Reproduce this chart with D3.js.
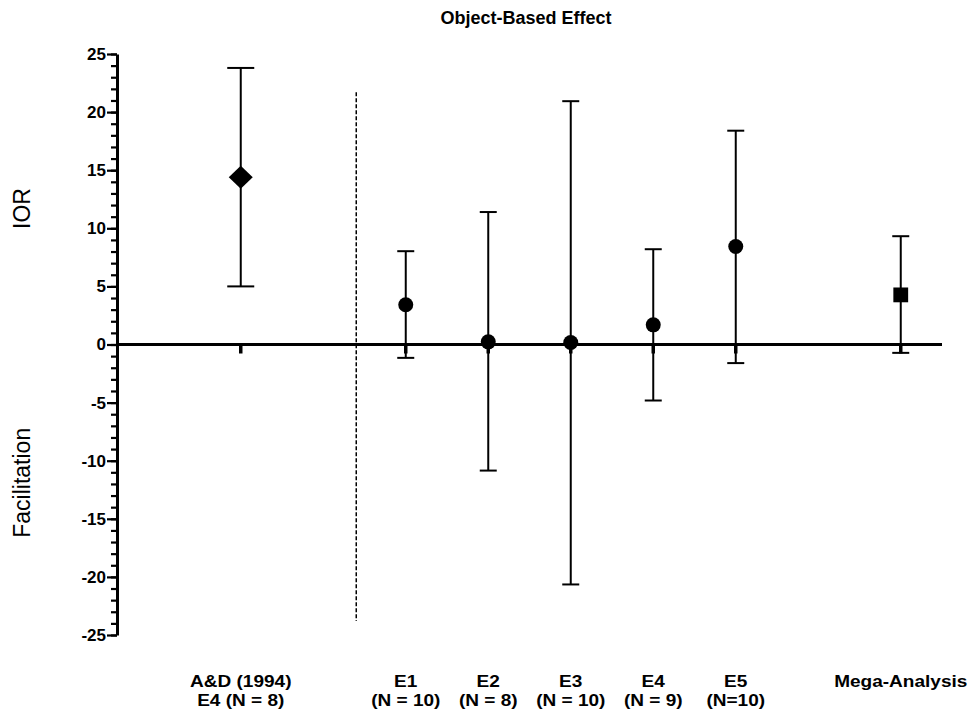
<!DOCTYPE html>
<html>
<head>
<meta charset="utf-8">
<script src="https://cdn.jsdelivr.net/npm/d3@7/dist/d3.min.js"></script>
<style>
  html, body { margin: 0; padding: 0; background: #fff; }
  svg { display: block; font-family: "Liberation Sans", Arial, sans-serif; }
</style>
</head>
<body>
<svg id="chart" width="970" height="715"></svg>
<script>
// ---- data ----
const labelLine1 = ["A&D (1994)", "E1", "E2", "E3", "E4", "E5", "Mega-Analysis"];
const labelLine2 = ["E4 (N = 8)", "(N = 10)", "(N = 8)", "(N = 10)", "(N = 9)", "(N=10)", ""];
const positions  = [0, 2, 3, 4, 5, 6, 8];
const means      = [14.4, 3.42, 0.23, 0.17, 1.69, 8.43, 4.27];
const upper      = [23.8, 8.03, 11.4, 20.94, 8.2, 18.4, 9.32];
const lower      = [5.0, -1.15, -10.85, -20.65, -4.82, -1.6, -0.72];
const markers    = ["diamond", "circle", "circle", "circle", "circle", "circle", "square"];
const majorTicks = [-25, -20, -15, -10, -5, 0, 5, 10, 15, 20, 25];
const separatorX = 1.4;
const separatorY = [21.7, -23.8];
const title = "Object-Based Effect";
const yTitleTop = "IOR";
const yTitleBottom = "Facilitation";

// ---- chart ----
const svg = d3.select("#chart");
const x = d3.scaleLinear().domain([-1.5, 8.5]).range([117, 942]);
const y = d3.scaleLinear().domain([-25, 25]).range([635, 54]);

// title
svg.append("text").attr("x", 526).attr("y", 24)
  .attr("text-anchor", "middle").attr("font-weight", "bold").attr("font-size", 18)
  .text(title);

// y axis minor ticks
const minorAxis = d3.axisLeft(y).tickValues(d3.range(-25, 26, 1)).tickSize(6).tickFormat("");
const gMinor = svg.append("g").attr("transform", `translate(${x(-1.5)},0)`).call(minorAxis);
gMinor.select(".domain").remove();
gMinor.selectAll(".tick line").attr("stroke", "#000").attr("stroke-width", 2.2);

// y axis major
const majorAxis = d3.axisLeft(y).tickValues(majorTicks).tickSize(10).tickPadding(1)
  .tickSizeOuter(0).tickFormat(d => String(d));
const gMajor = svg.append("g").attr("transform", `translate(${x(-1.5)},0)`).call(majorAxis);
gMajor.select(".domain").attr("stroke", "#000").attr("stroke-width", 3);
gMajor.selectAll(".tick line").attr("stroke", "#000").attr("stroke-width", 2.2);
gMajor.selectAll(".tick text").attr("font-family", "'Liberation Sans', Arial, sans-serif")
  .attr("font-weight", "bold").attr("font-size", 17).attr("fill", "#000");

// y titles
svg.append("text").attr("transform", `translate(30,${y(11.7)}) rotate(-90)`)
  .attr("text-anchor", "middle").attr("font-size", 23).text(yTitleTop);
svg.append("text").attr("transform", `translate(30,${y(-11.9)}) rotate(-90)`)
  .attr("text-anchor", "middle").attr("font-size", 23).text(yTitleBottom);

// separator dashed line
svg.append("line")
  .attr("x1", x(separatorX)).attr("x2", x(separatorX))
  .attr("y1", y(separatorY[0])).attr("y2", y(separatorY[1]))
  .attr("stroke", "#000").attr("stroke-width", 1.5).attr("stroke-dasharray", "4,2");

// zero line
svg.append("line")
  .attr("x1", x(-1.5)).attr("x2", x(8.5)).attr("y1", y(0)).attr("y2", y(0))
  .attr("stroke", "#000").attr("stroke-width", 3);

// x ticks
svg.append("g").selectAll("line").data(positions).join("line")
  .attr("x1", d => x(d)).attr("x2", d => x(d))
  .attr("y1", y(0)).attr("y2", y(0) + 9)
  .attr("stroke", "#000").attr("stroke-width", 3.5);

// error bars
const idx = d3.range(positions.length);
const gBars = svg.append("g").attr("stroke", "#000").attr("stroke-width", 2);
gBars.selectAll("line.v").data(idx).join("line").attr("class", "v")
  .attr("x1", i => x(positions[i])).attr("x2", i => x(positions[i]))
  .attr("y1", i => y(upper[i])).attr("y2", i => y(lower[i]));
const capHalf = i => markers[i] === "diamond" ? 13.5 : 8.5;
gBars.selectAll("line.cu").data(idx).join("line").attr("class", "cu")
  .attr("x1", i => x(positions[i]) - capHalf(i)).attr("x2", i => x(positions[i]) + capHalf(i))
  .attr("y1", i => y(upper[i])).attr("y2", i => y(upper[i]));
gBars.selectAll("line.cl").data(idx).join("line").attr("class", "cl")
  .attr("x1", i => x(positions[i]) - capHalf(i)).attr("x2", i => x(positions[i]) + capHalf(i))
  .attr("y1", i => y(lower[i])).attr("y2", i => y(lower[i]));

// markers
function markerPath(type) {
  if (type === "diamond") return "M0,-11.5L12,0L0,11.5L-12,0Z";
  if (type === "square") return "M-7.4,-7.4H7.4V7.4H-7.4Z";
  const p = d3.path(); p.arc(0, 0, 7.5, 0, 2 * Math.PI); return p.toString();
}
svg.append("g").selectAll("path").data(idx).join("path")
  .attr("transform", i => `translate(${x(positions[i])},${y(means[i])})`)
  .attr("d", i => markerPath(markers[i]))
  .attr("fill", "#000");

// category labels (two lines, slightly widened glyphs)
const gLab = svg.append("g").attr("font-weight", "bold").attr("font-size", 17).attr("text-anchor", "middle");
gLab.selectAll("text.l1").data(idx).join("text").attr("class", "l1")
  .attr("transform", i => `translate(${x(positions[i])},687) scale(1.12,1)`)
  .text(i => labelLine1[i]);
gLab.selectAll("text.l2").data(idx).join("text").attr("class", "l2")
  .attr("transform", i => `translate(${x(positions[i])},706) scale(1.12,1)`)
  .text(i => labelLine2[i]);
</script>
</body>
</html>
